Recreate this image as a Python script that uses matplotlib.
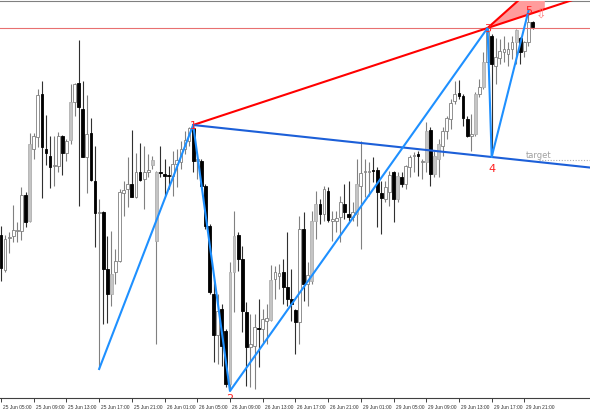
import numpy as np
import matplotlib.pyplot as plt
from matplotlib.transforms import ScaledTranslation

# M30 свечи (условные пункты цены)
opens = [164, 129, 161, 163, 168, 168, 204, 178, 250, 262,
         305, 250, 243, 233, 233, 263, 246, 259, 297, 316,
         290, 242, 266, 218, 186, 187, 130, 105, 127, 138,
         206, 210, 215, 202, 227, 220, 227, 234, 158, 227,
         225, 224, 223, 235, 237, 250, 258, 271, 238, 238,
         213, 173, 105, 64, 90, 68, 15, 127, 164, 140,
         87, 52, 53, 71, 70, 78, 79, 120, 123, 127,
         112, 100, 89, 77, 170, 115, 118, 178, 195, 185,
         208, 178, 178, 182, 195, 185, 182, 185, 213, 227,
         227, 229, 229, 206, 200, 207, 227, 200, 222, 215,
         232, 243, 245, 237, 237, 269, 225, 240, 253, 268,
         280, 298, 306, 303, 280, 263, 265, 305, 312, 337,
         363, 333, 341, 347, 345, 350, 357, 361, 348, 357,
         377]
highs = [173, 164, 167, 194, 177, 212, 207, 266, 266, 310,
         318, 284, 263, 263, 267, 264, 260, 315, 316, 359,
         318, 304, 281, 253, 200, 188, 163, 168, 150, 210,
         218, 242, 269, 246, 256, 253, 245, 243, 228, 253,
         240, 233, 248, 250, 258, 268, 272, 274, 245, 240,
         215, 175, 120, 105, 95, 70, 137, 188, 167, 153,
         97, 85, 85, 100, 90, 95, 134, 133, 135, 140,
         167, 130, 90, 183, 187, 137, 188, 208, 200, 213,
         212, 188, 188, 203, 215, 218, 197, 240, 258, 240,
         237, 242, 232, 218, 218, 228, 228, 227, 227, 234,
         244, 247, 248, 240, 277, 272, 248, 260, 272, 283,
         300, 318, 319, 305, 283, 285, 307, 320, 347, 371,
         365, 361, 360, 363, 357, 363, 370, 362, 358, 388,
         378]
lows = [118, 127, 146, 157, 157, 159, 172, 177, 240, 252,
        201, 234, 211, 213, 227, 224, 238, 255, 283, 193,
        242, 206, 218, 152, 30, 75, 76, 93, 115, 137,
        183, 192, 202, 201, 218, 190, 222, 230, 55, 222,
        203, 210, 203, 212, 230, 245, 253, 227, 220, 212,
        170, 105, 37, 35, 33, 12, 8, 87, 128, 67,
        13, 12, 10, 32, 55, 55, 78, 100, 110, 95,
        93, 78, 45, 55, 98, 93, 115, 160, 175, 178,
        177, 158, 167, 157, 180, 178, 178, 173, 150, 202,
        203, 217, 172, 165, 197, 193, 177, 197, 212, 210,
        222, 227, 223, 220, 227, 213, 222, 222, 243, 260,
        270, 295, 300, 273, 262, 248, 263, 302, 310, 335,
        242, 315, 335, 337, 333, 340, 335, 335, 342, 353,
        370]
closes = [131, 160, 162, 169, 169, 204, 177, 255, 263, 304,
          252, 246, 232, 234, 263, 246, 258, 297, 315, 292,
          242, 265, 219, 186, 187, 130, 105, 125, 138, 207,
          209, 215, 202, 227, 219, 227, 229, 239, 227, 226,
          223, 223, 235, 239, 250, 259, 271, 238, 240, 213,
          173, 107, 64, 88, 53, 15, 127, 163, 140, 88,
          52, 55, 72, 70, 80, 81, 119, 127, 126, 112,
          100, 95, 77, 170, 115, 124, 178, 195, 185, 210,
          179, 180, 181, 197, 187, 182, 187, 215, 226, 228,
          228, 228, 207, 201, 212, 224, 200, 223, 215, 233,
          242, 244, 243, 238, 268, 225, 243, 255, 268, 281,
          296, 305, 303, 281, 263, 265, 305, 312, 337, 367,
          335, 342, 348, 350, 350, 357, 369, 347, 357, 377,
          372]
shaded = [7, 17, 27, 37, 38, 56, 57, 66, 76, 77, 87, 97, 104,
          106, 107, 116, 118, 126]

tick_labels = ['25 Jun 05:00', '25 Jun 09:00', '25 Jun 13:00', '25 Jun 17:00',
               '25 Jun 21:00', '26 Jun 01:00', '26 Jun 05:00', '26 Jun 09:00',
               '26 Jun 13:00', '26 Jun 17:00', '26 Jun 21:00', '29 Jun 01:00',
               '29 Jun 05:00', '29 Jun 09:00', '29 Jun 13:00', '29 Jun 17:00',
               '29 Jun 21:00']

# точки волны (индексы свечей), чётные - минимумы, нечётные - максимумы
wave_idx = [24, 47, 56, 119, 120, 129]
zone_end = 133
target_level = 239

o = np.array(opens, dtype=float)
h = np.array(highs, dtype=float)
l = np.array(lows, dtype=float)
c = np.array(closes, dtype=float)
x = np.arange(len(o))

fig = plt.figure(figsize=(5.9, 4.1), dpi=100)
ax = fig.add_axes([0, 11 / 410, 1, 397 / 410])

up = c >= o
body_col = np.where(up, 'white', 'black').astype(object)
body_col[shaded] = '#c4c4c4'
edge_col = np.where(up, '#7f7f7f', 'black').astype(object)
edge_col[shaded] = '#b0b0b0'
wick_col = np.where(up, '#808080', '#303030').astype(object)

ax.vlines(x, l, h, colors=list(wick_col), lw=0.8, zorder=1)
ax.bar(x, np.maximum(np.abs(c - o), 0.8), bottom=np.minimum(o, c), width=0.68,
       color=list(body_col), edgecolor=list(edge_col), linewidth=0.6, zorder=2)

wave_val = [l[i] if k % 2 == 0 else h[i] for k, i in enumerate(wave_idx)]
i1, i2, i3, i4, i5 = wave_idx[1:]
v1, v2, v3, v4, v5 = wave_val[1:]
x_end = 145

s13 = (v3 - v1) / (i3 - i1)
s14 = (v4 - v1) / (i4 - i1)
s24 = (v4 - v2) / (i4 - i2)

ax.axhline(v3, color='#e87070', lw=0.8, zorder=3)

# зона точки 5
tri_x = [i3, zone_end, zone_end]
tri_y = [v3, v3 + s24 * (zone_end - i3), v3 + s13 * (zone_end - i3)]
ax.fill(tri_x, tri_y, color='#ff9c9c', lw=0, zorder=3)
ax.plot([i3, zone_end], [v3, v3 + s24 * (zone_end - i3)], color='red', lw=1.5, zorder=4)

ax.plot([i1, x_end], [v1, v1 + s13 * (x_end - i1)], color='red', lw=1.5, zorder=4)
ax.plot([i1, x_end], [v1, v1 + s14 * (x_end - i1)], color='#1c5fd8', lw=1.5, zorder=4)
ax.plot(wave_idx, wave_val, color='#1e90ff', lw=1.5, zorder=5)

offsets = {1: 0, 2: -5, 3: 0, 4: -8, 5: 1}
for n in range(1, 6):
    ax.annotate(str(n), (wave_idx[n], wave_val[n]), xytext=(0, offsets[n]),
                textcoords='offset points', ha='center', va='center',
                color='#ff2020', fontsize=8, zorder=6, clip_on=True)

ax.plot([131.5, x_end], [target_level, target_level], color='#b0b0b0',
        lw=0.8, ls=(0, (1, 1.5)), zorder=3)
ax.text(128.4, target_level + 5, 'target', color='#a0a0a0', fontsize=6,
        ha='left', va='center', zorder=6)
ax.text(132, 385, '\u21e9', color='#ff8080', fontsize=9, ha='center',
        va='center', zorder=6)

ax.set_xlim(-0.245, 144.05)
ax.set_ylim(1, 398)
ax.set_yticks([])
ticks = np.arange(len(tick_labels)) * 8
ax.set_xticks(ticks, tick_labels, ha='left')
ax.tick_params(axis='x', length=3, width=0.7, color='#404040', pad=1,
               labelsize=3.5, labelcolor='#303030')
shift = ScaledTranslation(2 / 100, 0, fig.dpi_scale_trans)
for lab in ax.get_xticklabels():
    lab.set_fontfamily(['Liberation Sans Narrow', 'Liberation Sans'])
    lab.set_transform(lab.get_transform() + shift)

for side in ['left', 'right']:
    ax.spines[side].set_visible(False)
ax.spines['top'].set_color('#808080')
ax.spines['bottom'].set_color('#404040')
ax.spines['bottom'].set_linewidth(0.8)

fig.savefig('out.png', dpi=100)
